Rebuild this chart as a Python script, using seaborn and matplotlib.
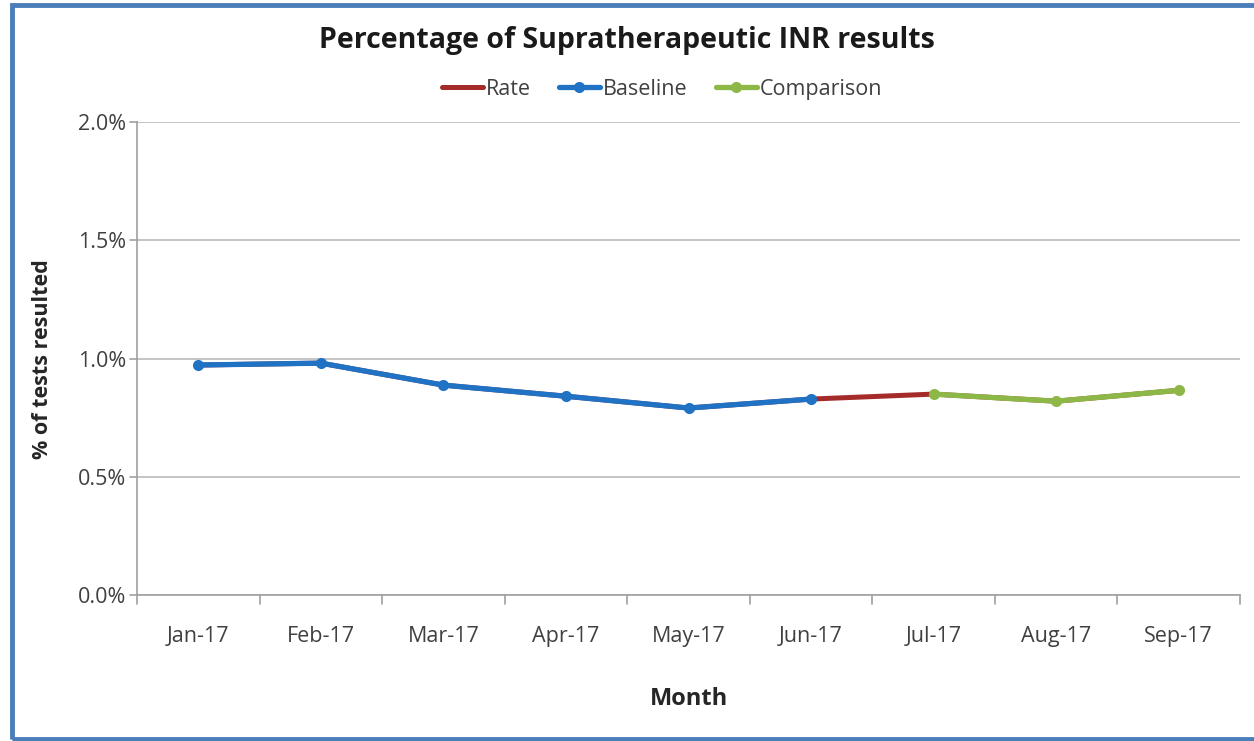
import matplotlib
matplotlib.use("Agg")
import matplotlib.pyplot as plt
import seaborn as sns
import pandas as pd
import numpy as np
from matplotlib.patches import Rectangle

months = ["Jan-17", "Feb-17", "Mar-17", "Apr-17", "May-17", "Jun-17", "Jul-17", "Aug-17", "Sep-17"]
rate = [0.973, 0.981, 0.888, 0.841, 0.791, 0.829, 0.850, 0.820, 0.866]
baseline_months = months[:6]
baseline = rate[:6]
comparison_months = months[6:]
comparison = rate[6:]
yticks = [0.0, 0.5, 1.0, 1.5, 2.0]

sns.set_style("white")
plt.rcParams['font.family'] = ['Open Sans', 'DejaVu Sans']

fig = plt.figure(figsize=(12.54, 7.41), dpi=100)
ax = fig.add_axes([0.1093, 0.197, 0.8795, 0.638])

pos = {m: i for i, m in enumerate(months)}
df_rate = pd.DataFrame({"x": [pos[m] for m in months], "y": rate})
df_base = pd.DataFrame({"x": [pos[m] for m in baseline_months], "y": baseline})
df_comp = pd.DataFrame({"x": [pos[m] for m in comparison_months], "y": comparison})

sns.lineplot(data=df_rate, x="x", y="y", ax=ax, color="#A52A2A", lw=3.6, label="Rate")
sns.lineplot(data=df_base, x="x", y="y", ax=ax, color="#1F72C4", lw=3.8, marker="o",
             markersize=8, markeredgewidth=0, label="Baseline")
sns.lineplot(data=df_comp, x="x", y="y", ax=ax, color="#8DB848", lw=3.8, marker="o",
             markersize=8, markeredgewidth=0, label="Comparison")

ax.set_xlim(-0.5, len(months) - 0.5)
ax.set_ylim(0, 2.0)
ax.set_yticks(yticks)
ax.set_yticklabels([f"{v:.1f}%" for v in yticks], fontsize=15.5, color="#404040")
ax.set_xticks(range(len(months)))
ax.set_xticklabels(months, fontsize=15.5, color="#404040")
ax.tick_params(axis="x", length=0, pad=22)
ax.tick_params(axis="y", length=0, pad=8)
for b in np.arange(-0.5, len(months), 1.0):
    ax.plot([b, b], [0, -0.04], color="#A0A0A0", lw=1.2, clip_on=False)
for v in yticks:
    ax.plot([-0.5, -0.56], [v, v], color="#A0A0A0", lw=1.2, clip_on=False)

ax.grid(axis="y", color="#BFBFBF", lw=1.3)
ax.set_axisbelow(True)
for s in ["top", "right"]:
    ax.spines[s].set_visible(False)
ax.spines["left"].set_color("#A0A0A0")
ax.spines["bottom"].set_color("#A0A0A0")
ax.spines["left"].set_linewidth(1.2)
ax.spines["bottom"].set_linewidth(1.2)

ax.set_xlabel("Month", fontsize=17, fontweight="bold", color="#262626", labelpad=29)
ax.set_ylabel("% of tests resulted", fontsize=15.5, fontweight="bold", color="#262626", labelpad=18)

fig.text(0.5, 0.946, "Percentage of Supratherapeutic INR results", ha="center", va="center",
         fontsize=20.5, fontweight="bold", color="#1a1a1a")
leg = ax.legend(loc="center", bbox_to_anchor=(0.476, 1.07), ncol=3, frameon=False,
                fontsize=15.5, handlelength=1.9, handletextpad=0.15, columnspacing=1.3,
                labelcolor="#404040")

fig.patches.append(Rectangle((0.0095, 0.003), 1.2, 0.99, transform=fig.transFigure,
                             fill=False, edgecolor="#4A7EBB", lw=3.5))

fig.savefig("out.png", dpi=100)
